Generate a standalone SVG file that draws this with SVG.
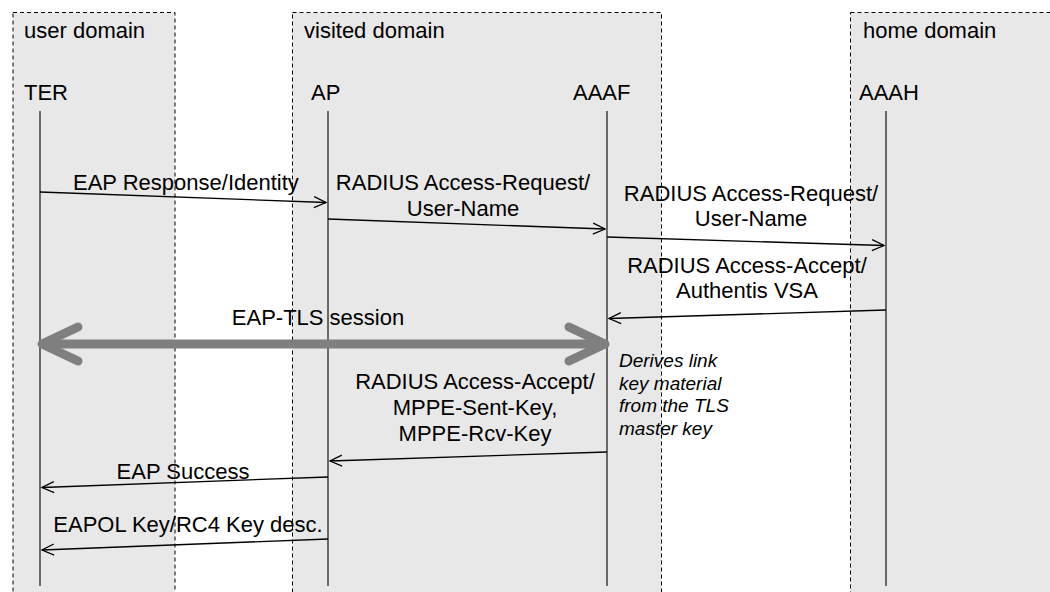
<svg xmlns="http://www.w3.org/2000/svg" width="1050" height="592" viewBox="0 0 1050 592">
<defs>
<style>
.dom{fill:#e8e8e8;stroke:#000;stroke-width:1;stroke-dasharray:4,3}
.lbl{font-family:"Liberation Sans",Arial,sans-serif;font-size:22px;fill:#000}
.mid{text-anchor:middle}
.note{font-family:"Liberation Sans",Arial,sans-serif;font-size:19px;font-style:italic;fill:#000}
.life{stroke:#333;stroke-width:1.4;fill:none}
.msg{stroke:#000;stroke-width:1.3;fill:none;marker-end:url(#ah)}
.tls{stroke:#7f7f7f;stroke-width:9;fill:none;stroke-linecap:round;stroke-linejoin:round}
</style>
<marker id="ah" markerUnits="userSpaceOnUse" markerWidth="16" markerHeight="14" refX="14" refY="7" orient="auto">
<path d="M2,1.5 L14,7 L2,12.5" fill="none" stroke="#000" stroke-width="1.3"/>
</marker>
</defs>
<rect width="1050" height="592" fill="#fff"/>
<g id="user-domain">
<rect class="dom" x="13" y="12.5" width="162" height="600"/>
<text class="lbl" x="24" y="38">user domain</text>
</g>
<g id="visited-domain">
<rect class="dom" x="292.5" y="12.5" width="369" height="600"/>
<text class="lbl" x="304" y="38">visited domain</text>
</g>
<g id="home-domain">
<rect class="dom" x="850.5" y="12.5" width="220" height="600"/>
<text class="lbl" x="863" y="38">home domain</text>
</g>
<g id="TER">
<text class="lbl" x="24" y="100">TER</text>
<line class="life" x1="40" y1="111" x2="40" y2="586"/>
</g>
<g id="AP">
<text class="lbl" x="311" y="100">AP</text>
<line class="life" x1="328" y1="111" x2="328" y2="586"/>
</g>
<g id="AAAF">
<text class="lbl" x="573" y="100">AAAF</text>
<line class="life" x1="607" y1="111" x2="607" y2="586"/>
</g>
<g id="AAAH">
<text class="lbl" x="859" y="100">AAAH</text>
<line class="life" x1="886" y1="111" x2="886" y2="586"/>
</g>
<g id="connectors">
<line class="msg" x1="40" y1="192" x2="326" y2="202.5"/>
<line class="msg" x1="328" y1="219" x2="605" y2="229"/>
<line class="msg" x1="607" y1="237" x2="884" y2="245.5"/>
<line class="msg" x1="886" y1="310" x2="609" y2="318.5"/>
<line class="msg" x1="607" y1="452" x2="330" y2="461"/>
<line class="msg" x1="328" y1="477" x2="42" y2="487.5"/>
<line class="msg" x1="328" y1="539" x2="42" y2="550"/>
<g id="eap-tls">
<line class="tls" x1="44" y1="344" x2="603" y2="344"/>
<polyline class="tls" points="78,327 42,344 78,361"/>
<polyline class="tls" points="569,327 605,344 569,361"/>
</g>
</g>
<g id="labels">
<text class="lbl" x="73" y="190">EAP Response/Identity</text>
<text class="lbl mid" x="463" y="190">RADIUS Access-Request/</text>
<text class="lbl mid" x="463" y="216">User-Name</text>
<text class="lbl mid" x="751" y="200.5">RADIUS Access-Request/</text>
<text class="lbl mid" x="751" y="226">User-Name</text>
<text class="lbl mid" x="747" y="272.5">RADIUS Access-Accept/</text>
<text class="lbl mid" x="747" y="298">Authentis VSA</text>
<text class="lbl mid" x="318" y="325">EAP-TLS session</text>
<text class="lbl mid" x="475" y="389">RADIUS Access-Accept/</text>
<text class="lbl mid" x="475" y="415">MPPE-Sent-Key,</text>
<text class="lbl mid" x="475" y="441">MPPE-Rcv-Key</text>
<text class="lbl mid" x="183" y="479">EAP Success</text>
<text class="lbl mid" x="188" y="531.5">EAPOL Key/RC4 Key desc.</text>
<text class="note" x="619" y="367">Derives link</text>
<text class="note" x="619" y="389.5">key material</text>
<text class="note" x="619" y="412">from the TLS</text>
<text class="note" x="619" y="434.5">master key</text>
</g>
</svg>
